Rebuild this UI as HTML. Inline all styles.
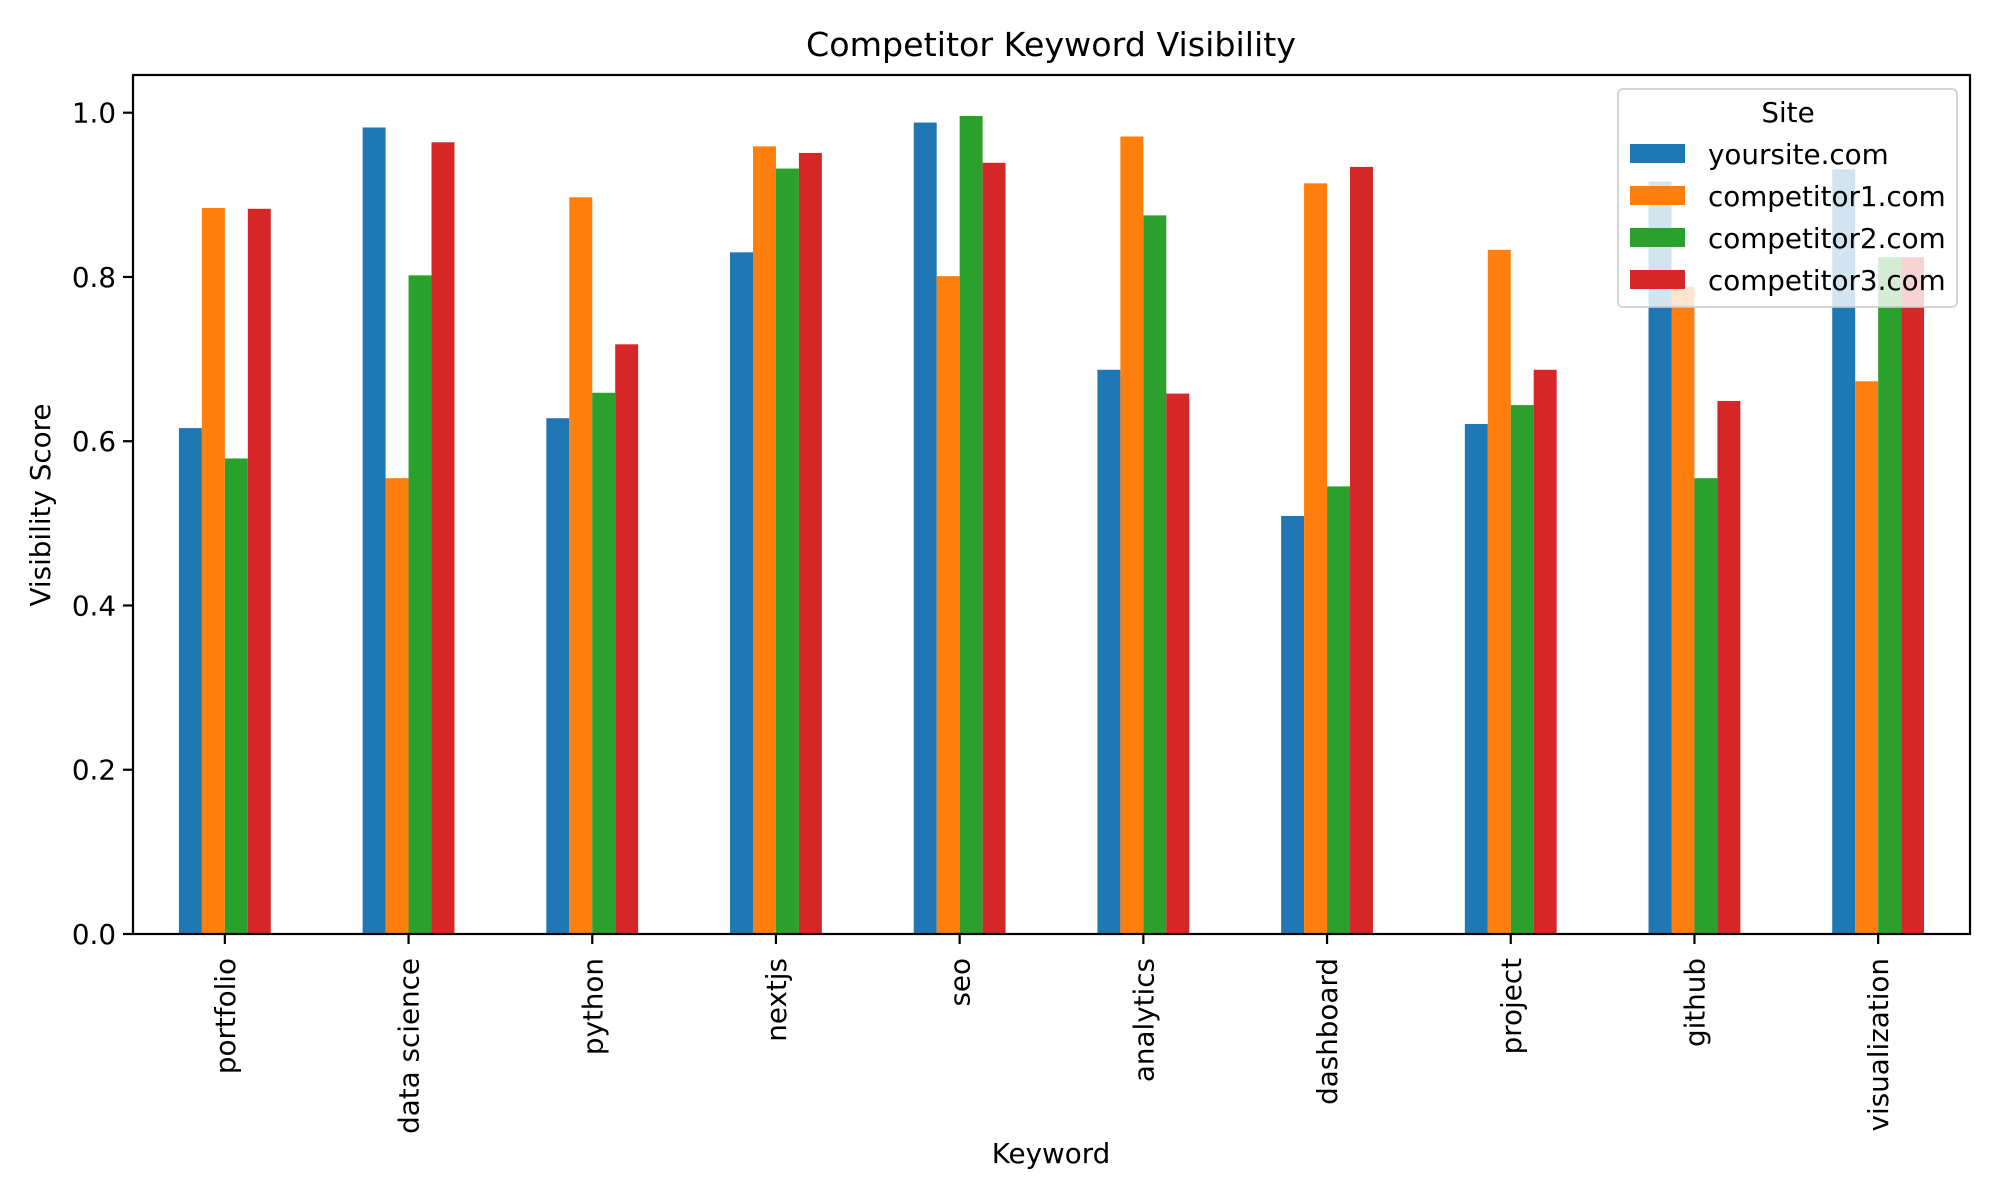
<!DOCTYPE html>
<html><head><meta charset="utf-8"><style>
html,body{margin:0;padding:0;background:#fff}
svg{display:block;font-family:"DejaVu Sans","Liberation Sans",sans-serif}
</style></head><body>
<svg id="chart" width="2000" height="1200" viewBox="0 0 2000 1200" xmlns="http://www.w3.org/2000/svg">
<rect width="2000" height="1200" fill="#fff"/>
<text x="1051" y="56" font-size="33.3" text-anchor="middle">Competitor Keyword Visibility</text>
<g id="bars"></g>
<g id="axes"></g>
<text transform="translate(50,505) rotate(-90)" font-size="27.78" text-anchor="middle">Visibility Score</text>
<text x="1051" y="1163" font-size="27.78" text-anchor="middle">Keyword</text>
<g id="legend"></g>
</svg>
<script>
const categories = ["portfolio","data science","python","nextjs","seo","analytics","dashboard","project","github","visualization"];
const seriesNames = ["yoursite.com","competitor1.com","competitor2.com","competitor3.com"];
const yoursite = [0.616,0.982,0.628,0.830,0.988,0.687,0.509,0.621,0.916,0.931];
const competitor1 = [0.884,0.555,0.897,0.959,0.801,0.971,0.914,0.833,0.788,0.673];
const competitor2 = [0.579,0.802,0.659,0.932,0.996,0.875,0.545,0.644,0.555,0.824];
const competitor3 = [0.883,0.964,0.718,0.951,0.939,0.658,0.934,0.687,0.649,0.824];
const yTicks = [0.0,0.2,0.4,0.6,0.8,1.0];
const yTickLabels = ["0.0","0.2","0.4","0.6","0.8","1.0"];

const NS="http://www.w3.org/2000/svg";
const colors=["#1f77b4","#ff7f0e","#2ca02c","#d62728"];
const series=[yoursite,competitor1,competitor2,competitor3];
const L=133,R=1970,T=75,B=934;
const yMax=(B-T)/821.3;
const xs=i=>L+(i+0.5)*(R-L)/categories.length;
const ys=v=>B-v*(B-T)/yMax;
const step=(R-L)/categories.length, bw=step*0.125;
function mk(tag,attrs,parent){const e=document.createElementNS(NS,tag);for(const k in attrs)e.setAttribute(k,attrs[k]);parent.appendChild(e);return e;}
const gb=document.getElementById('bars');
series.forEach((s,si)=>{s.forEach((v,i)=>{
  const x=xs(i)-2*bw+si*bw;
  const r=mk('rect',{x:x,y:ys(v),width:bw,height:ys(0)-ys(v),fill:colors[si]},gb);
  
  
});});
const ga=document.getElementById('axes');
const frame=mk('rect',{x:L,y:T,width:R-L,height:B-T,fill:'none',stroke:'#000','stroke-width':2.2},ga);


yTicks.forEach((t,i)=>{
  const y=ys(t);
  const tk=mk('line',{x1:L-10,x2:L,y1:y,y2:y,stroke:'#000','stroke-width':2.2},ga);
  
  
  const tx=mk('text',{x:L-17,y:y+10,'font-size':27.78,'text-anchor':'end'},ga);
  tx.textContent=yTickLabels[i];
  
  
});
categories.forEach((c,i)=>{
  const x=xs(i);
  const tk=mk('line',{x1:x,x2:x,y1:B,y2:B+10,stroke:'#000','stroke-width':2.2},ga);
  
  
  const tx=mk('text',{transform:`translate(${x+10},${B+24}) rotate(-90)`,'font-size':27.78,'text-anchor':'end'},ga);
  tx.textContent=c;
  
  
});
const gl=document.getElementById('legend');
const box=mk('rect',{x:1618,y:89,width:339,height:218,rx:5,fill:'#fff','fill-opacity':0.8,stroke:'#ccc','stroke-opacity':0.8,'stroke-width':2},gl);


const lt=mk('text',{x:1788,y:122,'font-size':27.78,'text-anchor':'middle'},gl);
lt.textContent='Site';


seriesNames.forEach((n,i)=>{
  const cy=154+i*42;
  const sw=mk('rect',{x:1630,y:cy-10,width:55,height:19,fill:colors[i]},gl);
  
  
  const tx=mk('text',{x:1708,y:cy+10,'font-size':27.78},gl);
  tx.textContent=n;
  
  
});
</script>
</body></html>
